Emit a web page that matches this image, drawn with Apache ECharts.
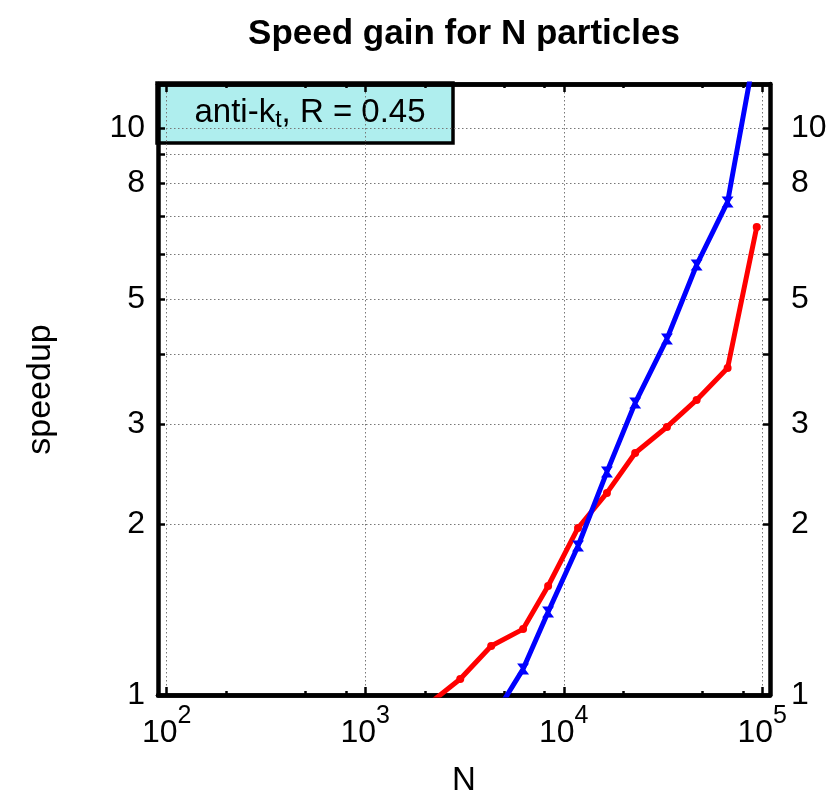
<!DOCTYPE html>
<html>
<head>
<meta charset="utf-8">
<script src="https://cdn.jsdelivr.net/npm/echarts@6/dist/echarts.min.js"></script>
<style>
html,body{margin:0;padding:0;background:#fff;}
#chart{width:834px;height:795px;}
</style>
</head>
<body>
<div id="chart"></div>
<script>
// ---- data ----
const particlesN = [2090, 3010, 4310, 6240, 8340, 11800, 16500, 22900, 33100, 46700, 66900, 93800];
const speedupRed = [0.964, 1.067, 1.220, 1.307, 1.557, 1.971, 2.273, 2.673, 2.971, 3.316, 3.776, 6.697];
const speedupBlue = [null, null, 0.90, 1.111, 1.401, 1.832, 2.475, 3.276, 4.249, 5.737, 7.413, 14.2];
const xDecadeTicks = [100, 1000, 10000, 100000];
const xMinorTicks = [200, 500, 800, 2000, 5000, 8000, 20000, 50000, 80000];
const yTickValues = [1, 2, 3, 4, 5, 6, 7, 8, 9, 10];
const yLabelValues = [1, 2, 3, 5, 8, 10];
const titleText = 'Speed gain for N particles';
const xName = 'N';
const yName = 'speedup';
const legendLabel = 'anti-k{t|t}, R = 0.45';

const FONT = '"Liberation Sans", Arial, sans-serif';
const L = Math.log10;
const toPts = (ys) => particlesN.map((n, i) => ys[i] == null ? null : [L(n), L(ys[i])]).filter(p => p);

const xMin = 1.956, xMax = 5.039, yMin = 0, yMax = 1.078;
const frameW = 4.5;
const gridStyle = {show: true, lineStyle: {color: '#777', type: [1.5, 2.5], width: 1}};

function xAxisDef(pos, ticks, len, labels, split) {
  return {
    type: 'value', position: pos, min: xMin, max: xMax,
    axisLine: {show: true, onZero: false, lineStyle: {color: '#000', width: frameW}},
    axisTick: {show: true, inside: true, length: len, lineStyle: {color: '#000', width: 2.5},
      customValues: ticks.map(L)},
    axisLabel: labels ? {
      show: true, margin: 9, customValues: xDecadeTicks.map(L),
      formatter: v => '{b|10}{s|' + Math.round(v) + '}',
      rich: {
        b: {fontFamily: FONT, fontSize: 32, color: '#000', verticalAlign: 'bottom', lineHeight: 45},
        s: {fontFamily: FONT, fontSize: 25, color: '#000', verticalAlign: 'top', lineHeight: 25}
      }
    } : {show: false},
    splitLine: split ? gridStyle : {show: false},
    name: (labels && pos === 'bottom') ? xName : '',
    nameLocation: 'middle', nameGap: 69,
    nameTextStyle: {fontFamily: FONT, fontSize: 33, color: '#000', verticalAlign: 'top'}
  };
}
function yAxisDef(pos, labels, split) {
  return {
    type: 'value', position: pos, min: yMin, max: yMax,
    axisLine: {show: true, onZero: false, lineStyle: {color: '#000', width: frameW}},
    axisTick: {show: true, inside: true, length: 7, lineStyle: {color: '#000', width: 2.5},
      customValues: yTickValues.map(L)},
    axisLabel: {
      show: labels, margin: pos === 'left' ? 13 : 21, customValues: yLabelValues.map(L),
      formatter: v => String(Math.round(Math.pow(10, v))),
      fontFamily: FONT, fontSize: 32, color: '#000'
    },
    splitLine: split ? gridStyle : {show: false},
    name: pos === 'left' ? yName : '',
    nameLocation: 'middle', nameGap: 100, nameRotate: 90,
    nameTextStyle: {fontFamily: FONT, fontSize: 34, color: '#000'}
  };
}

const chart = echarts.init(document.getElementById('chart'), null, {renderer: 'canvas'});
chart.setOption({
  animation: false,
  backgroundColor: '#fff',
  grid: {left: 158, right: 64, top: 84, bottom: 100, containLabel: false, outerBoundsMode: 'none'},
  xAxis: [
    xAxisDef('bottom', xDecadeTicks, 8, true, true),
    xAxisDef('bottom', xMinorTicks, 4, false, false),
    xAxisDef('top', xDecadeTicks, 8, false, false),
    xAxisDef('top', xMinorTicks, 4, false, false)
  ],
  yAxis: [
    yAxisDef('left', true, true),
    yAxisDef('right', true, false)
  ],
  graphic: [
    {
      type: 'text', x: 464, y: 34, z: 10,
      style: {text: titleText, fontFamily: FONT, fontSize: 35, fontWeight: 'bold', fill: '#000',
        align: 'center', verticalAlign: 'middle'}
    },
    {
      type: 'group', x: 157, y: 83, z: 20,
      children: [
        {type: 'rect', shape: {x: 0, y: 0, width: 296, height: 60},
          style: {fill: '#afeeee', stroke: '#000', lineWidth: 3.5}},
        {type: 'text', x: 153, y: 30,
          style: {text: legendLabel, fontFamily: FONT, fontSize: 33, fill: '#000',
            align: 'center', verticalAlign: 'middle',
            rich: {t: {fontFamily: FONT, fontSize: 23, fill: '#000', padding: [16, 0, 0, 0]}}}}
      ]
    }
  ],
  series: [
    {
      type: 'line', xAxisIndex: 0, yAxisIndex: 0, data: toPts(speedupRed),
      lineStyle: {color: '#ff0000', width: 5}, itemStyle: {color: '#ff0000'},
      symbol: 'circle', symbolSize: 8, showSymbol: true, clip: true, z: 3
    },
    {
      type: 'line', xAxisIndex: 0, yAxisIndex: 0, data: toPts(speedupBlue),
      lineStyle: {color: '#0000ff', width: 5}, itemStyle: {color: '#0000ff'},
      symbol: 'path://M0,0L10,0L6.5,5L10,10L0,10L3.5,5Z', symbolSize: [12, 11], showSymbol: true, clip: true, z: 4
    }
  ]
});
</script>
</body>
</html>
